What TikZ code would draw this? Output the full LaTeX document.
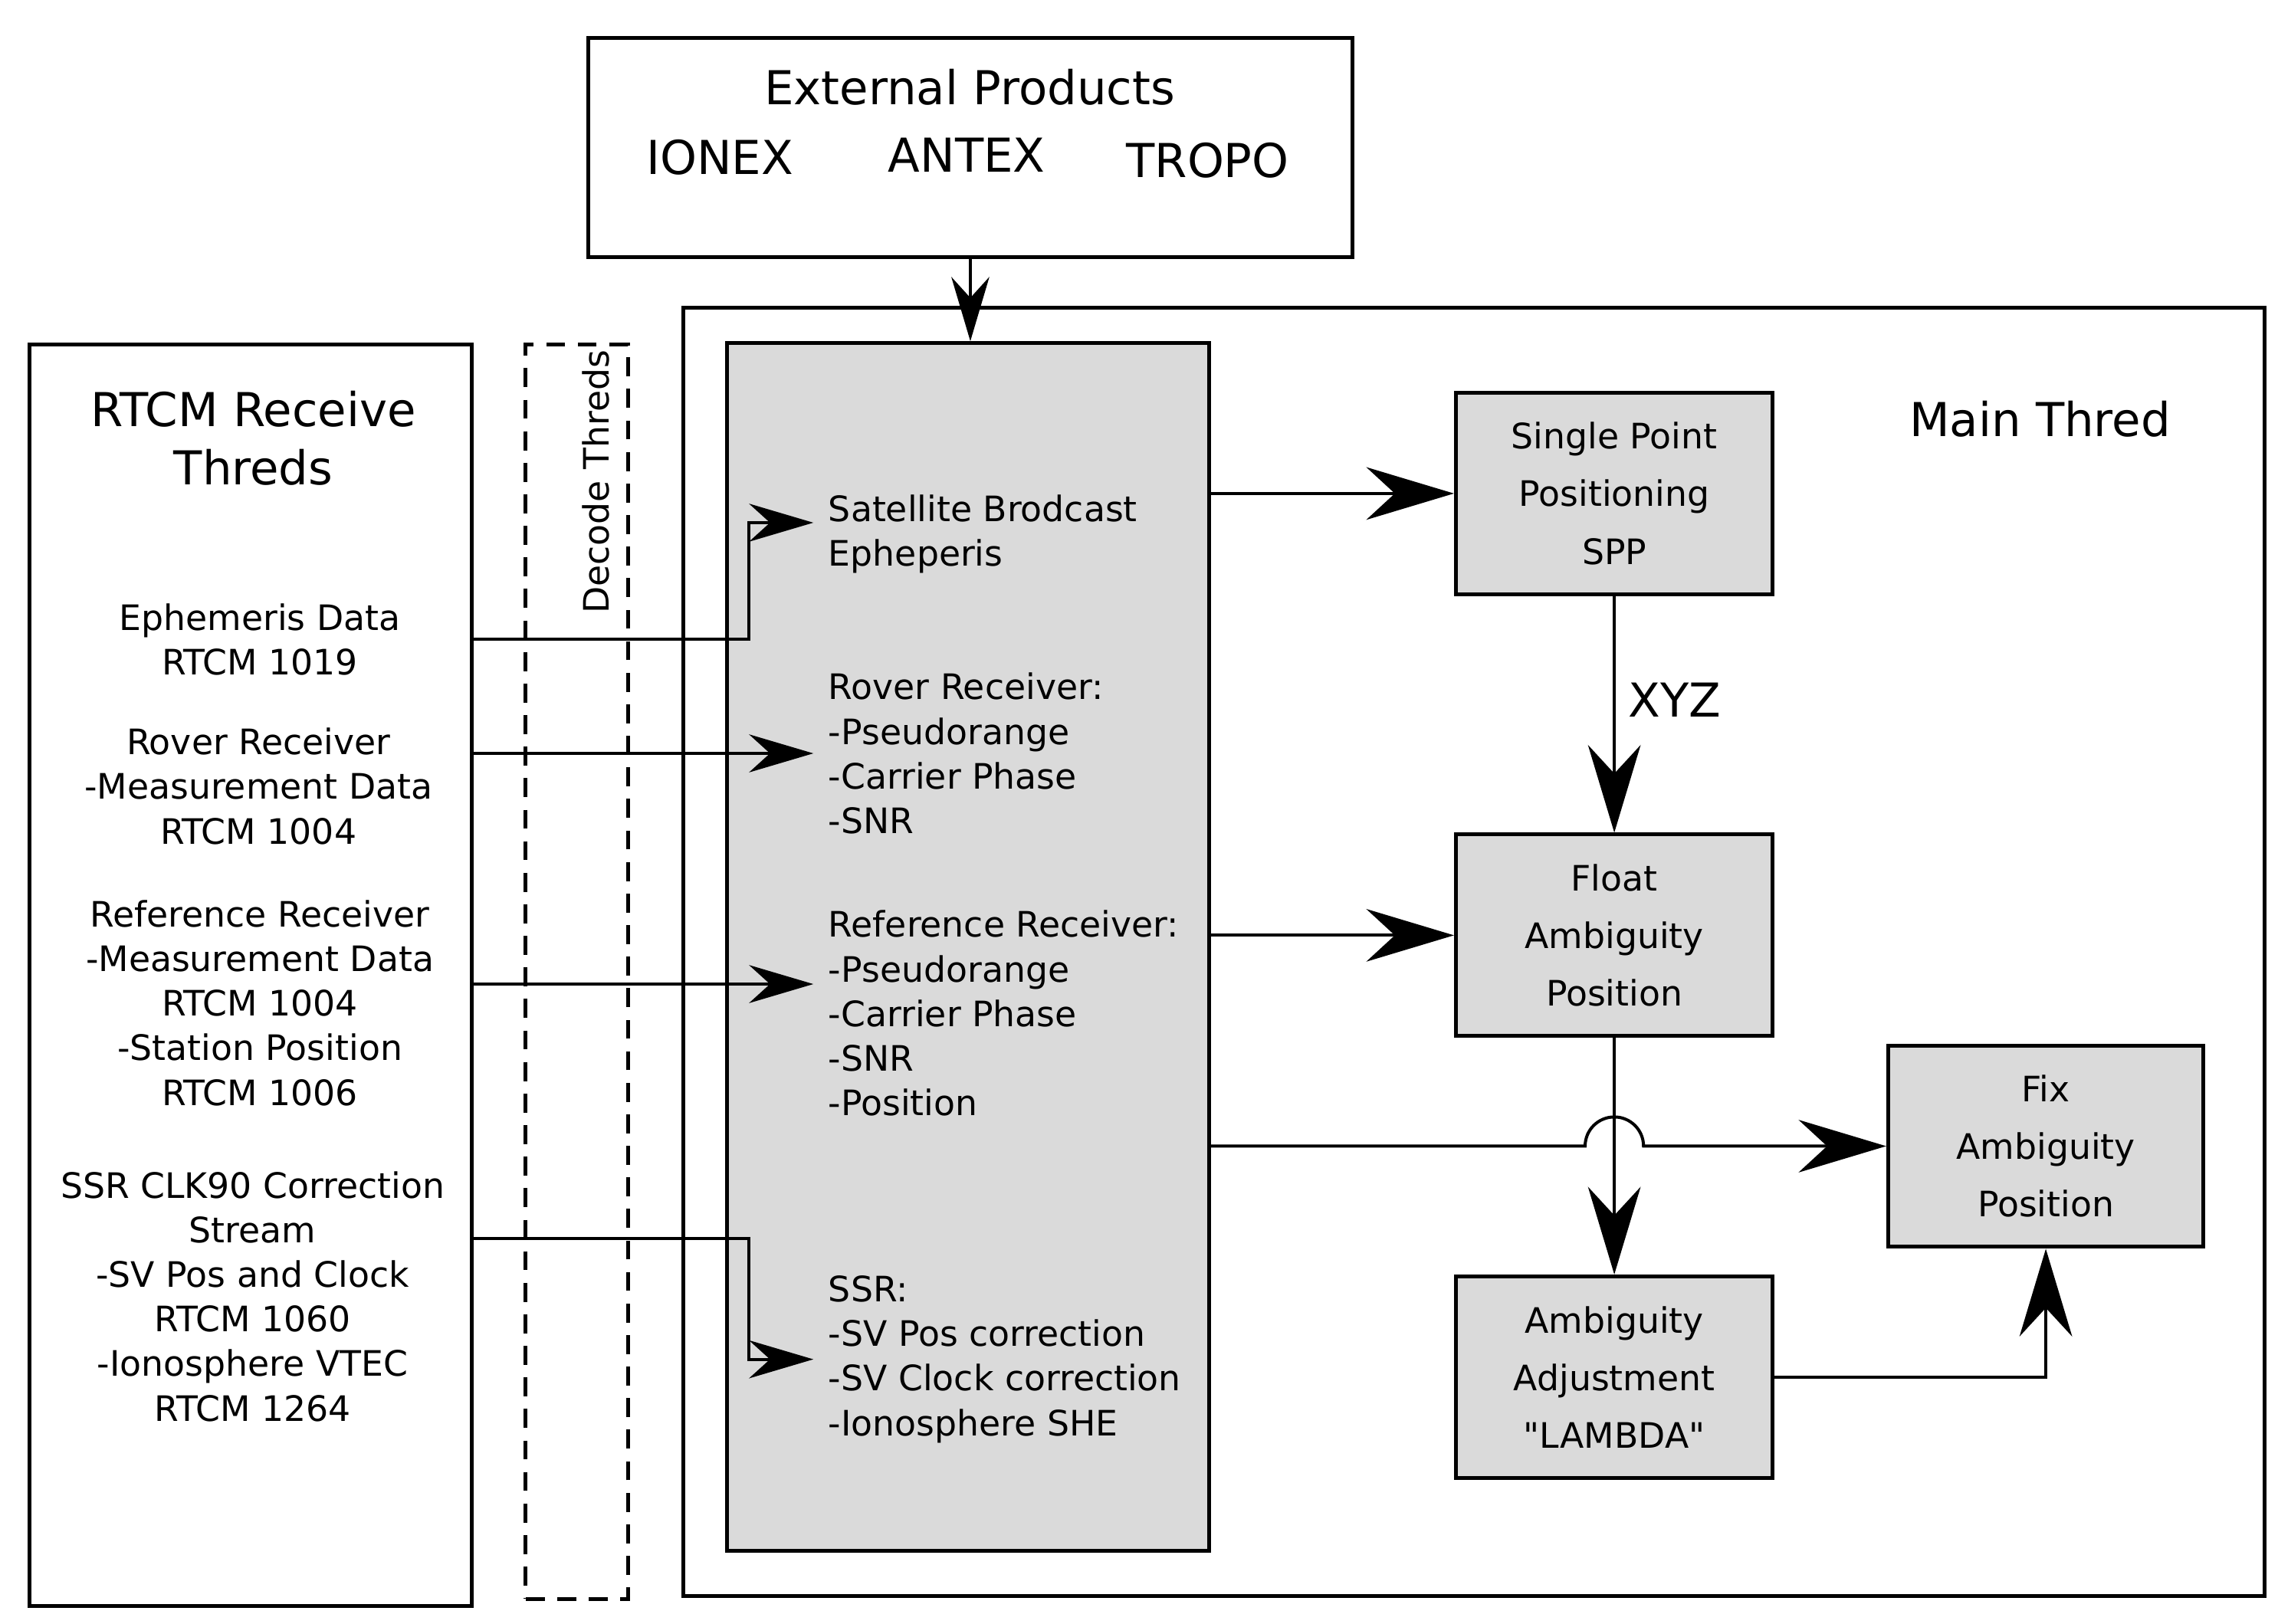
\documentclass[tikz,border=0pt]{standalone}
\usepackage{fontspec}
\setmainfont{DejaVu Sans}[Ligatures=TeXOff]
\usepackage{tikz}
\usetikzlibrary{positioning,arrows.meta,calc}
\definecolor{colorproc}{RGB}{218,218,218}
\definecolor{colortext}{RGB}{0,0,0}

\begin{document}
\begin{tikzpicture}[
    x=1pt, y=1pt,
    node distance = 81pt, auto,
    base/.style={draw=colortext,line width=1.3pt,rectangle,inner sep=0pt},
    proc/.style={base,fill=colorproc,minimum width=108.5pt,minimum height=69pt,align=center,font={\fontsize{12}{19.75}\selectfont}},
    txt/.style={text=colortext,align=center,font={\fontsize{12}{15.25}\selectfont}},
    intxt/.style={text=colortext,align=left,anchor=west,inner sep=5pt,font={\fontsize{12}{15.25}\selectfont}},
    bigtxt/.style={text=colortext,align=center,font={\fontsize{16}{20}\selectfont}},
    arrs/.style={-{Stealth[length=22pt,width=13pt]},line width=1.05pt},
    arrb/.style={-{Stealth[length=30pt,width=18pt]},line width=1.05pt},
]
    \useasboundingbox (0,0) rectangle (780,556);

    % Frames
    \node[base,minimum width=261.5pt,minimum height=75pt] (ext) at (332.25,505.5) {};
    \node[base,minimum width=541.5pt,minimum height=441pt] (main) at (504.75,230) {};
    \node[base,fill=colorproc,minimum width=165pt,minimum height=413.5pt] (decoder) at (331.5,231.75) {};
    \node[base,minimum width=151.5pt,minimum height=432pt] (rtcm) at (85.75,222) {};
    \node[base,dash pattern=on 6.5pt off 4.3pt,minimum width=35pt,minimum height=429.5pt] (decode) at (197.5,223.25) {};

    % External products
    \node[bigtxt] (extname) at (332,526) {External Products};
    \node[bigtxt] (ionex) at (246.5,502) {IONEX};
    \node[bigtxt] (antex) at (331,503) {ANTEX};
    \node[bigtxt] (tropo) at (413.5,501) {TROPO};

    % Thread labels
    \node[bigtxt] (rtcmname) at (86.75,406) {RTCM Receive\\Threds};
    \node[txt,rotate=90] (decodename) at (204,391) {Decode Threds};
    \node[bigtxt] (mainname) at (698.5,412.5) {Main Thred};

    % Receive texts
    \node[txt] (ephtxt) at (89,337) {Ephemeris Data\\RTCM 1019};
    \node[txt] (rovtxt) at (88.5,286.75) {Rover Receiver\\-Measurement Data\\RTCM 1004};
    \node[txt] (reftxt) at (89,212.5) {Reference Receiver\\-Measurement Data\\RTCM 1004\\-Station Position\\RTCM 1006};
    \node[txt] (ssrtxt) at (86.5,112) {SSR CLK90 Correction\\Stream\\-SV Pos and Clock\\RTCM 1060\\-Ionosphere VTEC\\RTCM 1264};

    % Decoded texts
    \node[intxt] (satin) at (278.5,373) {Satellite Brodcast\\Epheperis};
    \node[intxt] (rovin) at (278.5,298) {Rover Receiver:\\-Pseudorange\\-Carrier Phase\\-SNR};
    \node[intxt] (refin) at (278.5,209) {Reference Receiver:\\-Pseudorange\\-Carrier Phase\\-SNR\\-Position};
    \node[intxt] (ssrin) at (278.5,90.5) {SSR:\\-SV Pos correction\\-SV Clock correction\\-Ionosphere SHE};

    % Processing blocks
    \node[proc] (spp) at (552.75,387) {Single Point\\Positioning\\SPP};
    \node[proc,below=of spp] (float) {Float\\Ambiguity\\Position};
    \node[proc,below=of float] (adj) {Ambiguity\\Adjustment\\"LAMBDA"};
    \node[proc,minimum width=108pt] (fix) at (700.5,163.5) {Fix\\Ambiguity\\Position};

    % Arrows into decoder
    \draw[arrs] (ext.south) -- (ext.south |- decoder.north);
    \draw[arrs] (rtcm.east |- ephtxt) -| ([xshift=-22pt,yshift=4pt]satin.west) -- ([yshift=4pt]satin.west);
    \draw[arrs] (rtcm.east |- rovin.west) -- (rovin.west);
    \draw[arrs] (rtcm.east |- refin.west) ++(0,10pt) -- ([yshift=10pt]refin.west);
    \draw[arrs] ($(rtcm.east |- ssrtxt)+(0,20pt)$) -| ([xshift=-22pt]ssrin.west) -- (ssrin.west);

    % Arrows in main thread
    \draw[arrb] (decoder.east |- spp.west) -- (spp.west);
    \draw[arrb] (decoder.east |- float.west) -- (float.west);
    \draw[arrb] (spp) -- node[bigtxt,right=1pt,yshift=5pt] (xyz) {XYZ} (float);
    \draw[arrb] (float) -- (adj);
    \draw[arrb] (decoder.east |- fix.west) -- ($(float.south |- fix.west)+(-10pt,0)$) arc[start angle=180,end angle=0,radius=10pt] -- (fix.west);
    \draw[arrb] (adj.east) -| (fix.south);

\end{tikzpicture}
\end{document}
